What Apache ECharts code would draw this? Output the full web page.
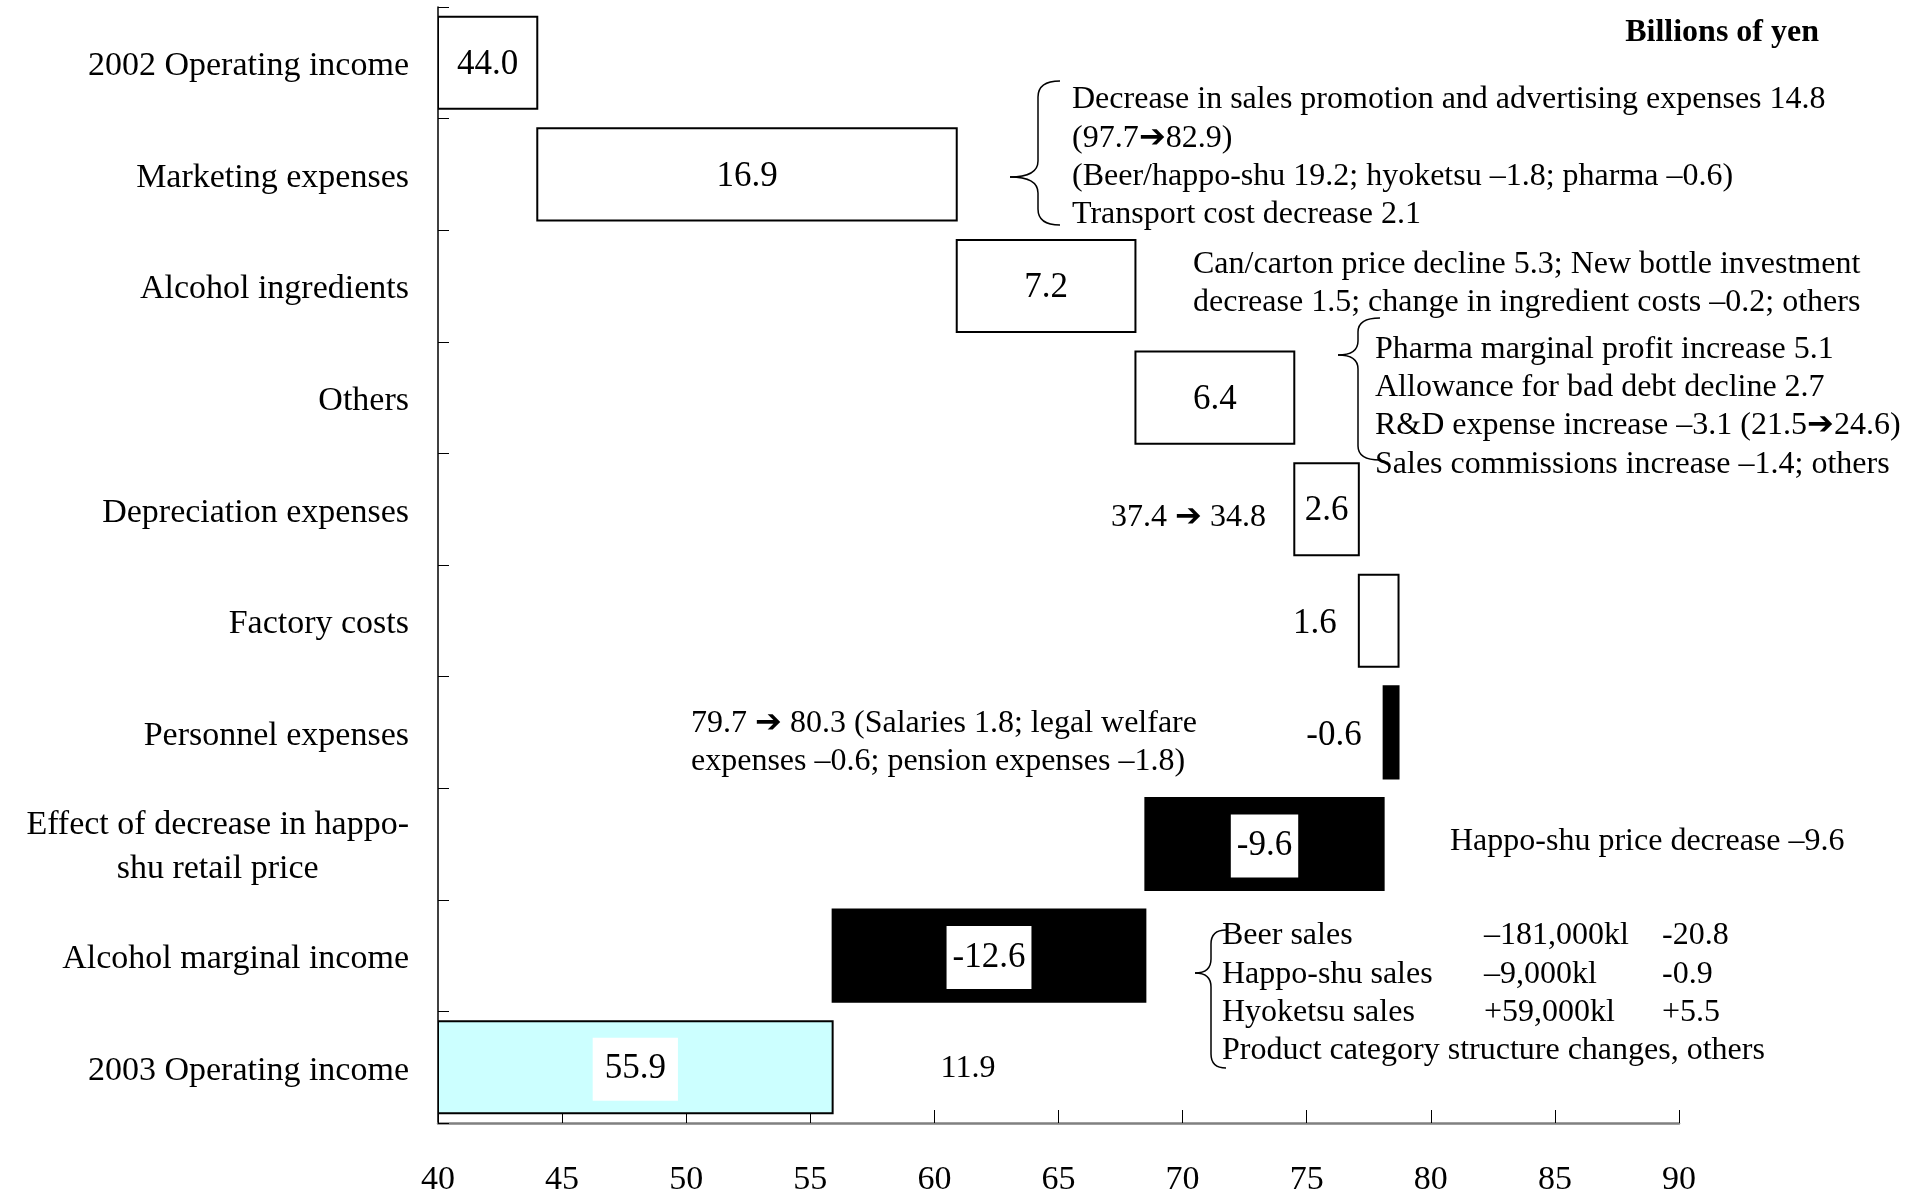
<!DOCTYPE html>
<html>
<head>
<meta charset="utf-8">
<script src="https://cdn.jsdelivr.net/npm/echarts@6/dist/echarts.min.js"></script>
<style>
html, body { margin: 0; padding: 0; background: #fff; }
#chart { width: 1928px; height: 1193px; }
</style>
</head>
<body>
<div id="chart"></div>
<script>
// Operating income bridge, 2002 -> 2003 (billions of yen)
const categories = [
  '2002 Operating income',
  'Marketing expenses',
  'Alcohol ingredients',
  'Others',
  'Depreciation expenses',
  'Factory costs',
  'Personnel expenses',
  'Effect of decrease in happo-\nshu retail price',
  'Alcohol marginal income',
  '2003 Operating income'
];
const changes = [44.0, 16.9, 7.2, 6.4, 2.6, 1.6, -0.6, -9.6, -12.6, 55.9];
const isTotal = [true, false, false, false, false, false, false, false, false, true];
const xTickValues = [40, 45, 50, 55, 60, 65, 70, 75, 80, 85, 90];

const SERIF = '"Liberation Serif", "Times New Roman", serif';

// running start/end of every bar
const bars = [];
let running = 0;
changes.forEach(function (v, i) {
  if (isTotal[i]) {
    bars.push([i, 0, v]);
    running = v;
  } else {
    bars.push([i, running, running + v]);
    running += v;
  }
});

function barFill(i) {
  if (isTotal[i]) return i === 0 ? '#ffffff' : '#ccffff';
  return changes[i] < 0 ? '#000000' : '#ffffff';
}

function renderBar(params, api) {
  const i = params.dataIndex;
  const p0 = api.coord([api.value(1), api.value(0)]);
  const p1 = api.coord([api.value(2), api.value(0)]);
  const h = api.size([0, 1])[1] * 0.825;
  const cs = params.coordSys;
  const shape = echarts.graphic.clipRectByRect({
    x: Math.min(p0[0], p1[0]),
    y: p0[1] - h / 2,
    width: Math.abs(p1[0] - p0[0]),
    height: h
  }, { x: cs.x, y: cs.y, width: cs.width, height: cs.height });
  if (!shape) return;
  const fill = barFill(i);
  const narrow = shape.width < 50;
  const boxed = fill !== '#ffffff' && !narrow;
  const padX = isTotal[i] ? 12 : 6;
  return {
    type: 'rect',
    shape: shape,
    style: { fill: fill, stroke: '#000', lineWidth: 2 },
    textContent: {
      type: 'text',
      style: {
        text: changes[i].toFixed(1),
        fontFamily: SERIF,
        fontSize: 35,
        fill: '#000',
        backgroundColor: boxed ? '#ffffff' : 'transparent',
        padding: boxed ? [15, padX, 13, padX] : 0
      }
    },
    textConfig: narrow
      ? { position: 'left', distance: 21, offset: [0, 3] }
      : { position: 'inside', offset: [0, 2] }
  };
}

function txt(x, y, text, extra) {
  return {
    type: 'text',
    x: x,
    y: y,
    style: Object.assign({
      text: text,
      fontFamily: SERIF,
      fontSize: 32,
      fill: '#000',
      align: 'left',
      verticalAlign: 'middle'
    }, extra || {})
  };
}

function lines(x, y0, arr, step, extra) {
  return arr.map(function (t, k) { return txt(x, y0 + k * step, t, extra); });
}

function brace(xEnd, xSpine, xTip, yTop, yTip, yBot, r) {
  const ls = { stroke: '#000', lineWidth: 1.5, fill: null };
  return {
    type: 'group',
    children: [
      { type: 'bezierCurve', shape: { x1: xEnd, y1: yTop, cpx1: xSpine, cpy1: yTop, x2: xSpine, y2: yTop + r }, style: ls },
      { type: 'line', shape: { x1: xSpine, y1: yTop + r, x2: xSpine, y2: yTip - r }, style: ls },
      { type: 'bezierCurve', shape: { x1: xSpine, y1: yTip - r, cpx1: xSpine, cpy1: yTip, x2: xTip, y2: yTip }, style: ls },
      { type: 'bezierCurve', shape: { x1: xTip, y1: yTip, cpx1: xSpine, cpy1: yTip, x2: xSpine, y2: yTip + r }, style: ls },
      { type: 'line', shape: { x1: xSpine, y1: yTip + r, x2: xSpine, y2: yBot - r }, style: ls },
      { type: 'bezierCurve', shape: { x1: xSpine, y1: yBot - r, cpx1: xSpine, cpy1: yBot, x2: xEnd, y2: yBot }, style: ls }
    ]
  };
}

const ARROW = '\u2794';
const netGain = (changes[9] - changes[0]).toFixed(1);

const annotations = [].concat(
  [txt(1819, 33, 'Billions of yen', { align: 'right', fontWeight: 'bold', fontSize: 32 })],
  lines(1072, 100, [
    'Decrease in sales promotion and advertising expenses 14.8',
    '(97.7' + ARROW + '82.9)',
    '(Beer/happo-shu 19.2; hyoketsu \u20131.8; pharma \u20130.6)',
    'Transport cost decrease 2.1'
  ], 38.1),
  [brace(1060, 1038, 1010, 81, 177, 225, 16)],
  lines(1193, 264.5, [
    'Can/carton price decline 5.3; New bottle investment',
    'decrease 1.5; change in ingredient costs \u20130.2; others'
  ], 38),
  lines(1375, 349.5, [
    'Pharma marginal profit increase 5.1',
    'Allowance for bad debt decline 2.7',
    'R&D expense increase \u20133.1 (21.5' + ARROW + '24.6)',
    'Sales commissions increase \u20131.4; others'
  ], 38.2),
  [brace(1380, 1358, 1338, 318, 355, 460, 14)],
  [txt(1266, 518, '37.4 ' + ARROW + ' 34.8', { align: 'right' })],
  lines(691, 723.5, [
    '79.7 ' + ARROW + ' 80.3 (Salaries 1.8; legal welfare',
    'expenses \u20130.6; pension expenses \u20131.8)'
  ], 38),
  [txt(1450, 842, 'Happo-shu price decrease \u20139.6')],
  lines(1222, 936, [
    'Beer sales',
    'Happo-shu sales',
    'Hyoketsu sales',
    'Product category structure changes, others'
  ], 38.3),
  lines(1484, 936, ['\u2013181,000kl', '\u20139,000kl', '+59,000kl'], 38.3),
  lines(1662, 936, ['-20.8', '-0.9', '+5.5'], 38.3),
  [brace(1226, 1211, 1195, 930, 973, 1068, 14)],
  [txt(968, 1069, netGain, { align: 'center', fontSize: 32 })]
);

const chart = echarts.init(document.getElementById('chart'), null, { renderer: 'canvas' });
chart.setOption({
  animation: false,
  backgroundColor: '#ffffff',
  grid: { left: 438, top: 7, width: 1241, height: 1116, containLabel: false, outerBoundsMode: 'none' },
  xAxis: {
    type: 'value',
    min: xTickValues[0],
    max: xTickValues[xTickValues.length - 1],
    interval: xTickValues[1] - xTickValues[0],
    position: 'bottom',
    axisLine: { show: true, lineStyle: { color: '#808080', width: 2.5 } },
    axisTick: { show: true, inside: true, length: 13, lineStyle: { color: '#000', width: 1 } },
    splitLine: { show: false },
    axisLabel: { color: '#000', fontFamily: SERIF, fontSize: 34, margin: 40 }
  },
  yAxis: {
    type: 'category',
    inverse: true,
    data: categories,
    axisLine: { show: true, lineStyle: { color: '#000', width: 1.5 } },
    axisTick: { show: true, inside: true, length: 11, lineStyle: { color: '#000', width: 1 } },
    splitLine: { show: false },
    axisLabel: {
      color: '#000',
      margin: 29,
      align: 'right',
      padding: [7, 0, 0, 0],
      formatter: function (v) {
        return v.split('\n').map(function (l) { return '{c|' + l + '}'; }).join('\n');
      },
      rich: {
        c: { fontFamily: SERIF, fontSize: 34, color: '#000', align: 'center', lineHeight: 44 }
      }
    }
  },
  series: [{
    type: 'custom',
    renderItem: renderBar,
    clip: true,
    encode: { x: [1, 2], y: 0 },
    data: bars
  }],
  graphic: { elements: annotations }
});
</script>
</body>
</html>
